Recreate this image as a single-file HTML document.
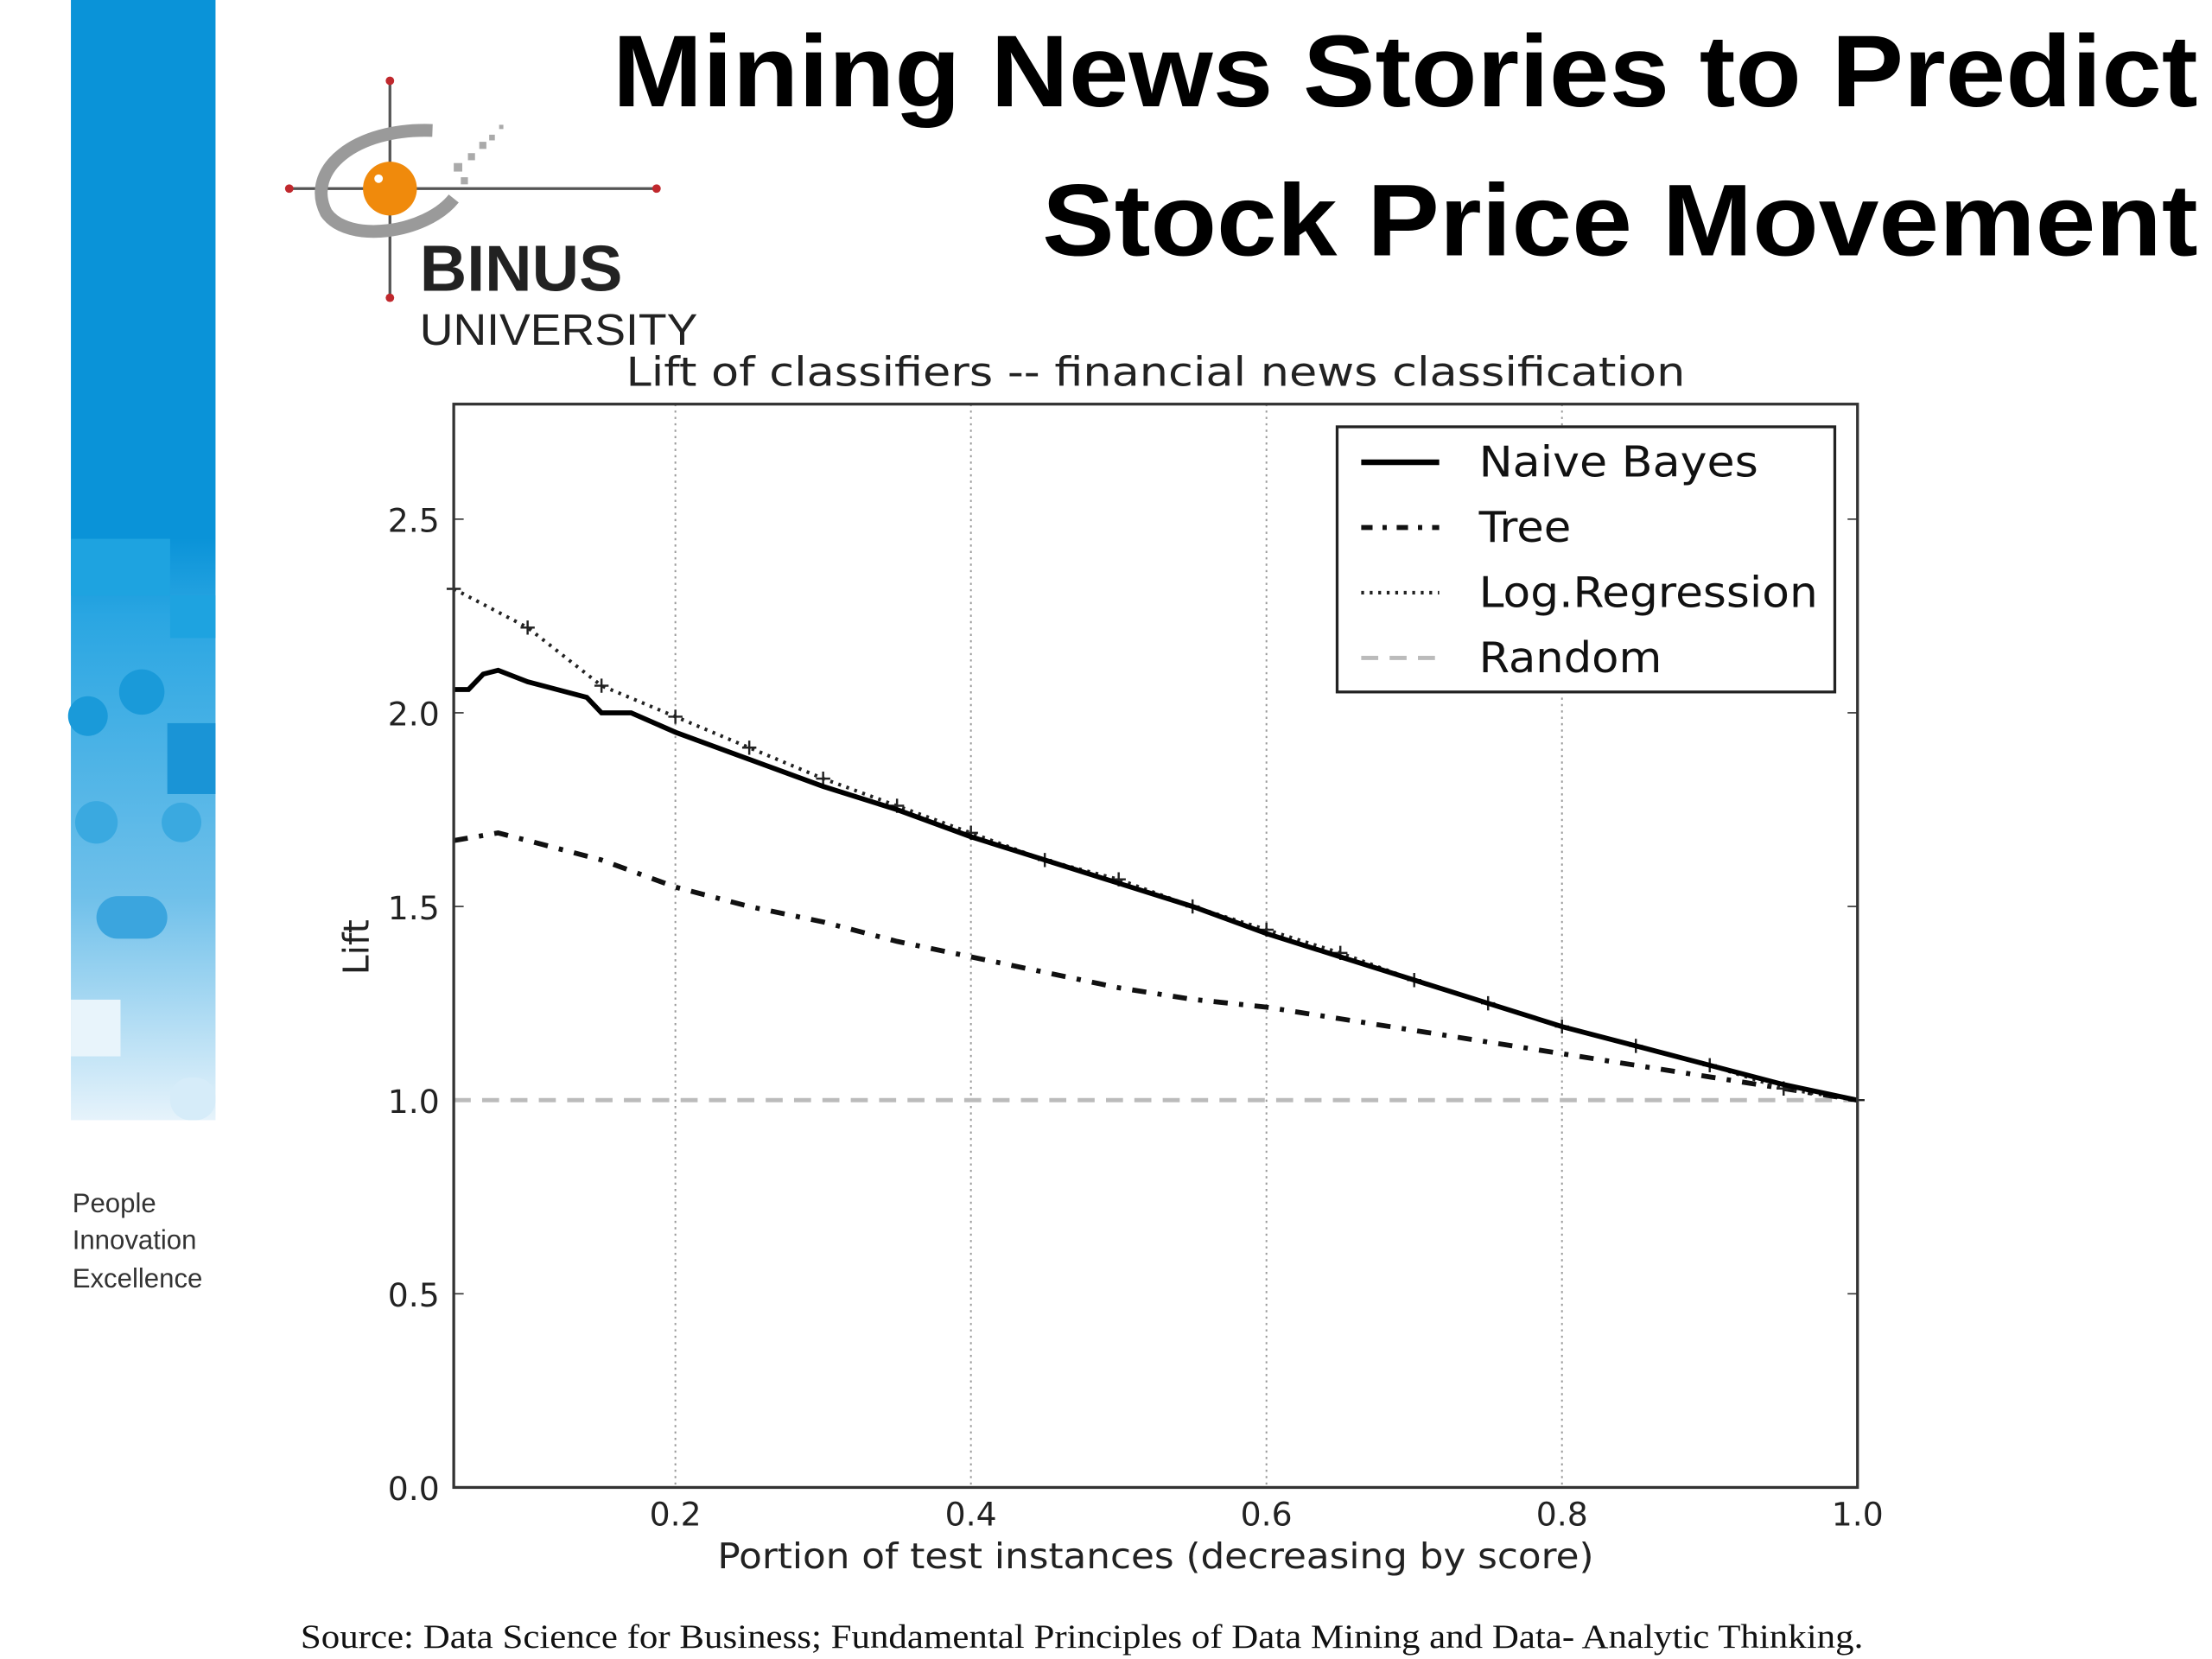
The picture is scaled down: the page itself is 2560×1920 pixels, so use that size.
<!DOCTYPE html>
<html><head><meta charset="utf-8"><style>html,body{margin:0;padding:0;background:#fff}svg{display:block}</style></head>
<body>
<svg id="root" width="2560" height="1920" viewBox="0 0 1560 1170" xmlns="http://www.w3.org/2000/svg">
<defs>
<linearGradient id="fade" x1="0" y1="0" x2="0" y2="1">
<stop offset="0" stop-color="#0a93d8"/><stop offset="0.48" stop-color="#0a93d8"/><stop offset="0.55" stop-color="#2aa6e2"/><stop offset="0.8" stop-color="#6fc0ea"/><stop offset="1" stop-color="#e6f3fb"/>
</linearGradient>
</defs>
<g>
<rect x="50" y="0" width="102" height="790" fill="url(#fade)"/>
<rect x="50" y="380" width="70" height="40" fill="#1ea3e0"/>
<rect x="120" y="420" width="32" height="30" fill="#1ea3e0"/>
<circle cx="100" cy="488" r="16" fill="#1a9ad9"/><circle cx="62" cy="505" r="14" fill="#1a9ad9"/>
<rect x="118" y="510" width="34" height="50" fill="#1a94d6"/>
<circle cx="68" cy="580" r="15" fill="#3aa9e0"/><circle cx="128" cy="580" r="14" fill="#3aa9e0"/>
<rect x="68" y="632" width="50" height="30" rx="15" fill="#3ba5de"/>
<rect x="50" y="705" width="35" height="40" fill="#e8f4fb"/>
<rect x="120" y="760" width="32" height="30" rx="14" fill="#d6ecf9"/>
</g>
<g>
<line x1="275" y1="57" x2="275" y2="210" stroke="#555" stroke-width="2"/>
<line x1="204" y1="133" x2="463" y2="133" stroke="#555" stroke-width="2"/>
<circle cx="275" cy="57" r="3" fill="#c0282d"/><circle cx="275" cy="210" r="3" fill="#c0282d"/>
<circle cx="204" cy="133" r="3" fill="#c0282d"/><circle cx="463" cy="133" r="3" fill="#c0282d"/>
<path d="M305 92 C250 90 215 120 230 150 C245 172 300 165 320 140" fill="none" stroke="#9a9a9a" stroke-width="9"/>
<circle cx="275" cy="133" r="19" fill="#f08a0c"/>
<circle cx="267" cy="126" r="3" fill="#fff"/>
<g fill="#aaa"><rect x="320" y="115" width="6" height="6"/><rect x="330" y="108" width="5" height="5"/><rect x="338" y="100" width="5" height="5"/><rect x="345" y="95" width="4" height="4"/><rect x="352" y="88" width="3" height="3"/><rect x="325" y="125" width="5" height="5"/></g>
<text x="296" y="205" font-family="Liberation Sans, sans-serif" font-weight="bold" font-size="46" fill="#222" textLength="143" lengthAdjust="spacingAndGlyphs">BINUS</text>
<text x="296" y="243" font-family="Liberation Sans, sans-serif" font-size="31" fill="#222" textLength="196" lengthAdjust="spacingAndGlyphs">UNIVERSITY</text>
</g>
<g font-family="Liberation Sans, sans-serif" font-size="19" fill="#333">
<text x="51" y="855">People</text><text x="51" y="881">Innovation</text><text x="51" y="908">Excellence</text>
</g>
<g font-family="Liberation Sans, sans-serif" font-weight="bold" font-size="72" fill="#000" text-anchor="end">
<text x="1550" y="75" textLength="1118" lengthAdjust="spacingAndGlyphs">Mining News Stories to Predict</text>
<text x="1550" y="180" textLength="815" lengthAdjust="spacingAndGlyphs">Stock Price Movement</text>
</g>
<text x="212" y="1162" font-family="Liberation Serif, serif" font-size="24" fill="#111" textLength="1102" lengthAdjust="spacingAndGlyphs">Source: Data Science for Business; Fundamental Principles of Data Mining and Data- Analytic Thinking.</text>
<g id="chart"></g>
</svg>
<script>
const xVals = [0.05,0.06,0.07,0.08,0.1,0.14,0.15,0.17,0.2,0.25,0.3,0.35,0.4,0.45,0.5,0.55,0.6,0.65,0.7,0.75,0.8,0.85,0.9,0.95,1.0];
const nbVals = [2.06,2.06,2.10,2.11,2.08,2.04,2.00,2.00,1.95,1.88,1.81,1.75,1.68,1.62,1.56,1.50,1.43,1.37,1.31,1.25,1.19,1.14,1.09,1.04,1.00];
const lrX = [0.05,0.1,0.15,0.2,0.25,0.3,0.35,0.4,0.45,0.5,0.55,0.6,0.65,0.7,0.75,0.8,0.85,0.9,0.95,1.0];
const lrVals = [2.32,2.22,2.07,1.99,1.91,1.83,1.76,1.69,1.62,1.57,1.50,1.44,1.38,1.31,1.25,1.19,1.14,1.09,1.03,1.00];
const treeX = [0.05,0.08,0.1,0.15,0.2,0.25,0.3,0.35,0.4,0.45,0.5,0.55,0.6,0.65,0.7,0.75,0.8,0.85,0.9,0.95,1.0];
const treeVals = [1.67,1.69,1.67,1.62,1.55,1.50,1.46,1.41,1.37,1.33,1.29,1.26,1.24,1.21,1.18,1.15,1.12,1.09,1.06,1.03,1.00];
const xTicks = [0.2,0.4,0.6,0.8,1.0];
const yTicks = [0.0,0.5,1.0,1.5,2.0,2.5];
const legendLabels = ["Naive Bayes","Tree","Log.Regression","Random"];
const legendWidths = [197,65,239,129];

const NS="http://www.w3.org/2000/svg";
const L=320,R=1310,T=285,B=1049,X0=0.05,X1=1.0,Y0=0,Y1=2.797;
const sx=v=>L+(v-X0)/(X1-X0)*(R-L);
const sy=v=>B-(v-Y0)/(Y1-Y0)*(B-T);
const g=document.getElementById('chart');
function mk(tag,attrs,parent){const e=document.createElementNS(NS,tag);for(const k in attrs)e.setAttribute(k,attrs[k]);(parent||g).appendChild(e);return e;}
const F='DejaVu Sans, Liberation Sans, sans-serif';
xTicks.forEach(v=>{
  const ln=mk('line',{x1:sx(v),x2:sx(v),y1:T,y2:B,stroke:'#999','stroke-width':1.2,'stroke-dasharray':'1.5 3'});
  
  
  const t=mk('text',{x:sx(v),y:1076,'text-anchor':'middle','font-family':F,'font-size':23,fill:'#222'});
  t.textContent=v.toFixed(1);
  
  
});
yTicks.forEach(v=>{
  mk('line',{x1:L,x2:L+7,y1:sy(v),y2:sy(v),stroke:'#333','stroke-width':1});
  mk('line',{x1:R-7,x2:R,y1:sy(v),y2:sy(v),stroke:'#333','stroke-width':1});
  const t=mk('text',{x:310,y:sy(v)+9,'text-anchor':'end','font-family':F,'font-size':23,fill:'#222'});
  t.textContent=v.toFixed(1);
  
  
});
const rnd=mk('line',{x1:L,x2:R,y1:sy(1),y2:sy(1),stroke:'#bbb','stroke-width':3,'stroke-dasharray':'12 8'});


const pts=(xs,ys)=>xs.map((x,i)=>sx(x).toFixed(1)+','+sy(ys[i]).toFixed(1)).join(' ');
const tree=mk('polyline',{points:pts(treeX,treeVals),fill:'none',stroke:'#111','stroke-width':3.5,'stroke-dasharray':'10 8 3 8'});


const lr=mk('polyline',{points:pts(lrX,lrVals),fill:'none',stroke:'#222','stroke-width':2.5,'stroke-dasharray':'2 4'});


lrX.forEach((x,i)=>{const p=mk('path',{d:`M${sx(x)-5} ${sy(lrVals[i])}h10M${sx(x)} ${sy(lrVals[i])-5}v10`,stroke:'#222','stroke-width':1.5});
  
  });
const nb=mk('polyline',{points:pts(xVals,nbVals),fill:'none',stroke:'#000','stroke-width':3.5});


const fr=mk('rect',{x:L,y:T,width:R-L,height:B-T,fill:'none',stroke:'#333','stroke-width':2});


const ct=mk('text',{x:815,y:272,'text-anchor':'middle','font-family':F,'font-size':28,fill:'#222',textLength:747,lengthAdjust:'spacingAndGlyphs'});
ct.textContent='Lift of classifiers -- financial news classification';


const xt=mk('text',{x:815,y:1106,'text-anchor':'middle','font-family':F,'font-size':25,fill:'#222',textLength:618,lengthAdjust:'spacingAndGlyphs'});
xt.textContent='Portion of test instances (decreasing by score)';


const yt=mk('text',{x:0,y:0,transform:'translate(260,668) rotate(-90)','text-anchor':'middle','font-family':F,'font-size':25,fill:'#222'});
yt.textContent='Lift';


const lg=mk('g',{});


mk('rect',{x:943,y:301,width:351,height:187,fill:'#fff',stroke:'#222','stroke-width':2},lg);
const styles=[{stroke:'#000','stroke-width':4},{stroke:'#111','stroke-width':3.5,'stroke-dasharray':'8 7 3 7'},{stroke:'#222','stroke-width':2.5,'stroke-dasharray':'2 4'},{stroke:'#bbb','stroke-width':3,'stroke-dasharray':'12 8'}];
legendLabels.forEach((lab,i)=>{
  const y=326+i*46;
  const s=mk('line',Object.assign({x1:960,x2:1015,y1:y,y2:y},styles[i]),lg);
  
  
  const t=mk('text',{x:1043,y:y+10,'font-family':F,'font-size':30,fill:'#111',textLength:legendWidths[i],lengthAdjust:'spacingAndGlyphs'},lg);
  t.textContent=lab;
  
  
});
</script>
</body></html>
